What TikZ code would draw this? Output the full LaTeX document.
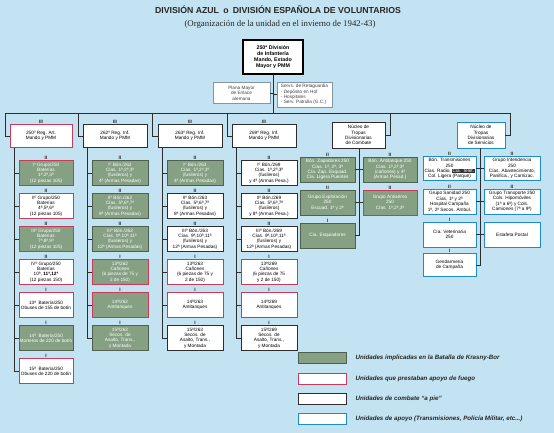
\documentclass[tikz,border=0pt]{standalone}
\usepackage{fontspec}
\setmainfont{Liberation Sans}
\newfontfamily\romana{Liberation Serif}

\definecolor{fondo}{RGB}{195,226,242}
\definecolor{verde}{RGB}{134,160,132}
\definecolor{verdeosc}{RGB}{80,96,80}
\definecolor{rojo}{RGB}{200,60,90}
\definecolor{azul}{RGB}{30,140,200}
\definecolor{oscuro}{RGB}{45,45,45}
\definecolor{gris}{RGB}{130,150,165}

\newcommand{\cajafont}{\fontsize{4.7}{5.4}\selectfont}
\newcommand{\telef}[1]{{\setlength{\fboxsep}{0.4pt}\colorbox{black!80}{\color{white}#1}}}

\tikzset{
  unidad/.style={draw=oscuro, fill=white, line width=0.6pt, align=center,
    inner sep=0.5pt, font=\cajafont, text=black},
  krasny/.style={unidad, fill=verde, draw=verdeosc, text=white},
  fuego/.style={draw=rojo},
  apoyo/.style={draw=azul},
  cabeza/.style={minimum width=64pt, minimum height=23pt},
  caja/.style={minimum width=56pt, minimum height=25pt},
  simbolo/.style={font=\bfseries\fontsize{4.8}{4.8}\selectfont, inner sep=0.4pt, anchor=south, text=oscuro},
  linea/.style={draw=oscuro, line width=0.5pt},
  leyenda/.style={font=\bfseries\itshape\fontsize{6.2}{7}\selectfont, anchor=west, text=black!85}
}

\begin{document}
\begin{tikzpicture}[x=1pt, y=-1pt]
    \path[use as bounding box, fill=fondo] (0,0) rectangle (554,433);

    \node[font=\bfseries\fontsize{8.7}{9.5}\selectfont, text=black!85] (titulo) at (278,10)
        {DIVISIÓN AZUL\enspace o\enspace DIVISIÓN ESPAÑOLA DE VOLUNTARIOS};
    \node[font=\romana\fontsize{8.8}{9.5}\selectfont, text=black!85] (subtitulo) at (280,24)
        {(Organización de la unidad en el invierno de 1942-43)};

    % mando de la division
    \node[unidad, draw=black, line width=1.4pt, minimum width=60pt, minimum height=34pt,
        font=\bfseries\fontsize{5.3}{6.1}\selectfont] (div) at (273,57)
        {250ª División\\de Infantería\\Mando, Estado\\Mayor y PMM};
    \node[unidad, draw=gris, text=black!75, minimum width=57pt, minimum height=21pt] (plana) at (241.5,93)
        {Plana Mayor\\de Enlace\\alemana};
    \node[unidad, draw=gris, text=black!75, align=left, minimum width=55pt, minimum height=25pt] (retag) at (304.5,94.5)
        {Servs. de Retaguardia\\- Depósito en Hof\\- Hospitales\\- Serv. Patrulla (G.C.)};

    \coordinate (b0) at (273,113);
    \coordinate (b1) at (5,113);
    \coordinate (b2) at (78,113);
    \coordinate (b3) at (152,113);
    \coordinate (b4) at (227,113);
    \coordinate (b5) at (390,113);
    \coordinate (b6) at (510,113);

    \draw[linea] (div.south) -- (b0);
    \draw[linea] (plana.east) -- (plana.east -| div.south);
    \draw[linea] (retag.west) -- (retag.west -| div.south);
    \draw[linea] (b1) -- (b6);

    % regimientos
    \node[unidad, fuego, cabeza, minimum width=62pt] (art) at (41,136) {250º Reg. Art.\\Mando y PMM};
    \node[unidad, cabeza] (r262) at (115,136) {262º Reg. Inf.\\Mando y PMM};
    \node[unidad, cabeza] (r263) at (190,136) {263º Reg. Inf.\\Mando y PMM};
    \node[unidad, cabeza] (r269) at (264,136) {269º Reg. Inf.\\Mando y PMM};
    \foreach \r in {art,r262,r263,r269}
        \node[simbolo] at (\r.north) {III};

    \draw[linea] (b1) |- (art.west);
    \draw[linea] (b2) |- (r262.west);
    \draw[linea] (b3) |- (r263.west);
    \draw[linea] (b4) |- (r269.west);

    % 250 artilleria
    \node[krasny, fuego, caja, minimum width=54pt] (art1) at (46,173) {Iº Grupo/250\\Baterías\\1ª,2ª,3ª\\(12 piezas 105)};
    \node[unidad, fuego, caja, minimum width=54pt] (art2) at (46,206) {IIº Grupo/250\\Baterías\\4ª,5ª,6ª\\(12 piezas 105)};
    \node[krasny, fuego, caja, minimum width=54pt] (art3) at (46,239) {IIIº Grupo/250\\Baterías\\7ª,8ª,9ª\\(12 piezas 105)};
    \node[unidad, fuego, caja, minimum width=54pt] (art4) at (46,272) {IVº Grupo/250\\Baterías\\10ª, \textbf{11ª,12ª}\\(12 piezas 150)};
    \node[unidad, fuego, caja, minimum width=54pt] (art5) at (46,305) {13ª\ \ Batería/250\\Obuses de 155 de botín};
    \node[krasny, caja, minimum width=54pt] (art6) at (46,338) {14ª\ \ Batería/250\\Morteros de 220 de botín};
    \node[unidad, fuego, caja, minimum width=54pt] (art7) at (46,371) {15ª\ \ Batería/250\\Obuses de 220 de botín};

    % 262 infanteria
    \node[krasny, caja] (i262a) at (120,173) {Iº Bón./262\\Cías. 1ª,2ª,3ª\\(fusileros) y\\4ª (Armas Pesadas)};
    \node[krasny, caja] (i262b) at (120,206) {IIº Bón./262\\Cías. 5ª,6ª,7ª\\(fusileros) y\\8ª (Armas Pesadas)};
    \node[krasny, caja] (i262c) at (120,239) {IIIº Bón./262\\Cías. 9ª,10ª,11ª\\(fusileros) y\\12ª (Armas Pesadas)};
    \node[krasny, fuego, caja] (i262d) at (120,272) {13ª/262\\Cañones\\(6 piezas de 75 y\\2 de 150)};
    \node[krasny, fuego, caja] (i262e) at (120,305) {14ª/262\\Antitanques};
    \node[krasny, caja] (i262f) at (120,338) {15ª/262\\Secos. de\\Asalto, Trans.,\\y Montada};

    % 263 infanteria
    \node[krasny, caja] (i263a) at (195,173) {Iº Bón./263\\Cías. 1ª,2ª,3ª\\(fusileros) y\\4ª (Armas Pesadas)};
    \node[unidad, caja] (i263b) at (195,206) {IIº Bón./263\\Cías. 5ª,6ª,7ª\\(fusileros) y\\8ª (Armas Pesadas)};
    \node[unidad, caja] (i263c) at (195,239) {IIIº Bón./263\\Cías. 9ª,10ª,11ª\\(fusileros) y\\12ª (Armas Pesadas)};
    \node[unidad, fuego, caja] (i263d) at (195,272) {13ª/263\\Cañones\\(6 piezas de 75 y\\2 de 150)};
    \node[unidad, fuego, caja] (i263e) at (195,305) {14ª/263\\Antitanques};
    \node[unidad, caja] (i263f) at (195,338) {15ª/263\\Secos. de\\Asalto, Trans.,\\y Montada};

    % 269 infanteria
    \node[unidad, caja] (i269a) at (269,173) {Iº Bón./269\\Cías. 1ª,2ª,3ª\\(fusileros)\\y 4ª (Armas Pesa.)};
    \node[unidad, caja] (i269b) at (269,206) {IIº Bón./269\\Cías. 5ª,6ª,7ª\\(fusileros)\\y 8ª (Armas Pesa.)};
    \node[unidad, caja] (i269c) at (269,239) {IIIº Bón./269\\Cías. 9ª,10ª,11ª\\(fusileros) y\\12ª (Armas Pesadas)};
    \node[unidad, fuego, caja] (i269d) at (269,272) {13ª/269\\Cañones\\(6 piezas de 75\\y 2 de 150)};
    \node[unidad, fuego, caja] (i269e) at (269,305) {14ª/269\\Antitanques};
    \node[unidad, caja] (i269f) at (269,338) {15ª/269\\Secos. de\\Asalto, Trans.,\\y Montada};

    % espinas y simbolos de las columnas
    \draw[linea] ([xshift=5pt]art.south west) |- (art7.west);
    \foreach \n in {1,...,6}
        \draw[linea] ([xshift=5pt]art.south west |- art\n.west) -- (art\n.west);
    \foreach \n in {1,...,4}
        \node[simbolo] at (art\n.north) {II};
    \foreach \n in {5,6,7}
        \node[simbolo] at (art\n.north) {I};

    \foreach \r in {262,263,269} {
        \draw[linea] ([xshift=5pt]r\r.south west) |- (i\r f.west);
        \foreach \c in {a,b,c,d,e}
            \draw[linea] ([xshift=5pt]r\r.south west |- i\r\c.west) -- (i\r\c.west);
        \foreach \c in {a,b,c}
            \node[simbolo] at (i\r\c.north) {II};
        \foreach \c in {d,e,f}
            \node[simbolo] at (i\r\c.north) {I};
    }

    % nucleo de combate
    \node[unidad, minimum width=53pt, minimum height=26pt] (ncomb) at (358.5,135)
        {Núcleo de\\Tropas\\Divisionarias\\de Combate};
    \draw[linea] (b5) |- (ncomb.east);
    \node[krasny, caja, minimum width=55pt] (zap) at (327.5,169.5) {Bón. Zapadores 250\\Cías. 1ª, 2ª, 3ª\\Cía. Zap. Esquiad.\\Cía. Ligera Puentes};
    \node[krasny, caja, minimum width=55pt] (explo) at (327.5,202.5) {Grupo Exploración\\250\\Escuad. 1ª y 2ª};
    \node[krasny, caja, minimum width=55pt] (esqui) at (327.5,235.5) {Cía. Esquiadores};
    \node[krasny, caja, minimum width=54pt] (antit) at (390,169.5) {Bón. Antitanque 250\\Cías. 1ª,2ª,3ª\\(cañones) y 4ª\\(Armas Pesad.)};
    \node[krasny, fuego, caja, minimum width=54pt] (antia) at (390,202.5) {Grupo Antiaéreo\\250\\Cías. 1ª,2ª,3ª};
    \coordinate (ec) at (359,0);
    \draw[linea] (ncomb.south -| ec) -- (esqui.east -| ec) -- (esqui.east);
    \foreach \u in {zap,explo}
        \draw[linea] (\u.east) -- (\u.east -| ec);
    \foreach \u in {antit,antia}
        \draw[linea] (\u.west) -- (\u.west -| ec);
    \foreach \u in {zap,explo,antit,antia}
        \node[simbolo] at (\u.north) {II};
    \node[simbolo] at (esqui.north) {I};

    % nucleo de servicios
    \node[unidad, apoyo, minimum width=48pt, minimum height=26pt] (nserv) at (481,135)
        {Núcleo de\\Tropas\\Divisionarias\\de Servicios};
    \draw[linea] (b6) |- (nserv.east);
    \node[unidad, apoyo, caja, minimum width=53pt, minimum height=24pt] (trans) at (449.5,168.5)
        {Bón. Transmisiones\\250\\Cías. Radio, \telef{Cía. Telef.}\\Col. Ligera (Parque)};
    \node[unidad, apoyo, caja, minimum width=53pt] (sanid) at (449.5,201.5)
        {Grupo Sanidad 250\\Cías. 1ª y 2ª\\Hospital Campaña\\1ª, 2ª Secos. Ambul.};
    \node[unidad, apoyo, caja, minimum width=53pt] (veter) at (449.5,234.5) {Cía. Veterinaria\\250};
    \node[unidad, apoyo, caja, minimum width=53pt, minimum height=23pt] (gend) at (449.5,265) {Gendarmería\\de Campaña};
    \node[unidad, apoyo, caja, minimum height=24pt] (inten) at (512,168.5)
        {Grupo Intendencia\\250\\Cías. Abastecimiento,\\Panifica., y Carnizac.};
    \node[unidad, apoyo, caja] (transp) at (512,201.5)
        {Grupo Transporte 250\\Cols. Hipomóviles\\(1ª a 6ª) y Cols.\\Camiones (7ª a 9ª)};
    \node[unidad, apoyo, caja] (posta) at (512,234.5) {Estafeta Postal};
    \coordinate (es) at (480,0);
    \draw[linea] (nserv.south -| es) -- (gend.east -| es) -- (gend.east);
    \foreach \u in {trans,sanid,veter}
        \draw[linea] (\u.east) -- (\u.east -| es);
    \foreach \u in {inten,transp,posta}
        \draw[linea] (\u.west) -- (\u.west -| es);
    \foreach \u in {trans,sanid,inten,transp}
        \node[simbolo] at (\u.north) {II};
    \foreach \u in {veter,gend}
        \node[simbolo] at (\u.north) {I};

    % leyenda
    \node[krasny, minimum width=48pt, minimum height=11pt] (lk) at (322,358) {};
    \node[unidad, fuego, minimum width=48pt, minimum height=11pt] (lf) at (322,379) {};
    \node[unidad, minimum width=48pt, minimum height=11pt] (lp) at (322,399) {};
    \node[unidad, apoyo, minimum width=48pt, minimum height=11pt] (la) at (322,419) {};
    \node[leyenda] (tk) at (352,358) {Unidades implicadas en la Batalla de Krasny-Bor};
    \node[leyenda] (tf) at (352,379) {Unidades que prestaban apoyo de fuego};
    \node[leyenda] (tp) at (352,399) {Unidades de combate “a pie”};
    \node[leyenda] (ta) at (352,419) {Unidades de apoyo (Transmisiones, Policía Militar, etc...)};
\end{tikzpicture}
\end{document}
